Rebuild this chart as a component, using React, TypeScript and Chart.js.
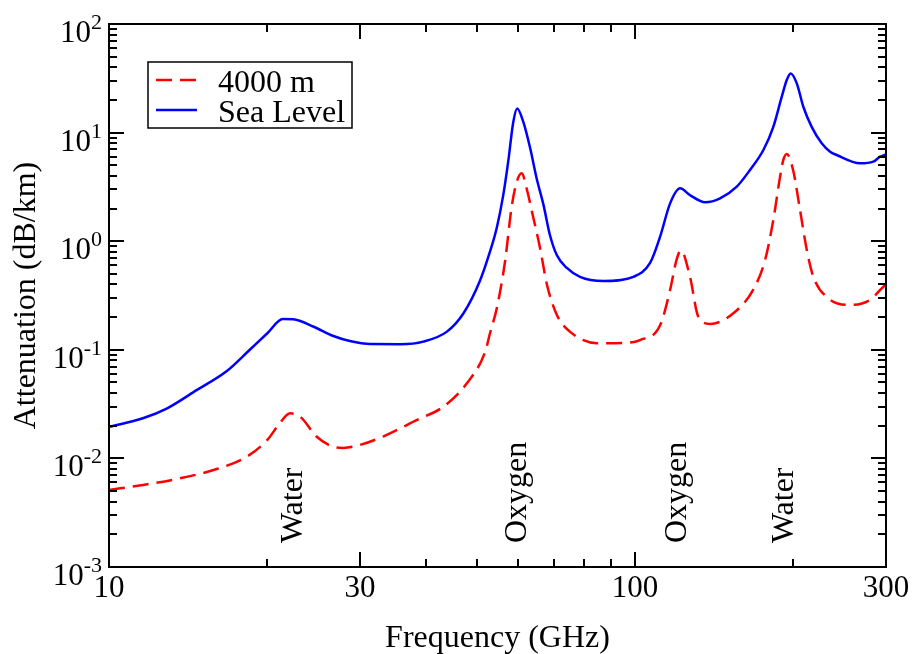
import React, { useEffect, useRef } from "react";
import { Chart, registerables } from "chart.js";

Chart.register(...registerables);

// ---- Data ----
const seaLevelFreq = [
  10, 11.6, 12.9, 14.7, 16.7, 18.5, 20.0, 21.4, 22.4, 24.5, 26.7, 28.7, 31.4, 35.8, 39.6, 43.9,
  47.2, 50.7, 53.0, 54.6, 56.2, 57.4, 58.7, 59.7, 61.3, 63.2, 65.0, 67.0, 68.9, 71.0, 74.1,
  78.6, 87.0, 99.3, 106.8, 111.6, 116.6, 121.8, 127.2, 135.9, 145.1, 156.1, 165.4, 175.4,
  183.2, 190.1, 194.3, 197.7, 203.0, 208.9, 216.7, 226.4, 234.9, 241.7, 267.8, 283.8, 292.3,
  300,
];
const seaLevelAtten = [
  0.0195, 0.0234, 0.0289, 0.0427, 0.063, 0.0996, 0.142, 0.192, 0.191, 0.163, 0.134, 0.1205,
  0.113, 0.1127, 0.119, 0.147, 0.217, 0.43, 0.8, 1.33, 2.7, 5.4, 12.6, 16.7, 12.6, 7.17, 3.8,
  2.15, 1.14, 0.746, 0.57, 0.47, 0.43, 0.47, 0.63, 1.1, 2.23, 3.07, 2.66, 2.28, 2.48, 3.18,
  4.53, 6.92, 11.3, 21.4, 30.5, 35.0, 28.4, 17.3, 11.3, 7.97, 6.67, 6.22, 5.21, 5.4, 6.0, 6.3,
];
const highFreq = [
  10, 11.6, 13.65, 15.8, 18.3, 20.0, 21.1, 22.1, 23.1, 24.8, 26.7, 27.9, 30.0, 33.2, 38.5,
  43.2, 47.9, 51.9, 53.0, 54.6, 56.6, 58.3, 59.6, 60.9, 62.2, 64.1, 66.0, 68.0, 71.0, 75.2,
  84.6, 96.4, 102.2, 111.6, 116.6, 119.9, 122.3, 127.2, 131.9, 138.9, 153.8, 167.9, 176.7,
  183.2, 188.7, 191.4, 194.3, 200.0, 205.9, 212.1, 218.3, 233.1, 256.3, 279.8, 294.4, 300,
];
const highAtten = [
  0.00512, 0.00569, 0.00656, 0.00782, 0.0104, 0.0148, 0.021, 0.026, 0.0242, 0.0159, 0.0128,
  0.0125, 0.0133, 0.0159, 0.0226, 0.0299, 0.0492, 0.0961, 0.142, 0.241, 0.647, 2.1, 3.53,
  4.22, 3.07, 1.63, 0.86, 0.4, 0.21, 0.147, 0.115, 0.116, 0.123, 0.168, 0.356, 0.67, 0.82,
  0.471, 0.202, 0.173, 0.217, 0.36, 0.671, 1.57, 3.93, 5.6, 6.35, 4.4, 1.94, 0.83, 0.471,
  0.298, 0.259, 0.288, 0.368, 0.4,
];
const seriesLabels = ["4000 m", "Sea Level"];
const xMajorTicks = [10, 30, 100, 300];
const xMinorTicks = [20, 40, 50, 60, 70, 80, 90, 200];
const yExponents = [-3, -2, -1, 0, 1, 2];
const annotationFreqs = [22.3, 59.5, 119.6, 190.9];
const annotationLabels = ["Water", "Oxygen", "Oxygen", "Water"];
const annotationAtten = 0.00166;
const xTitle = "Frequency (GHz)";
const yTitle = "Attenuation (dB/km)";

const FONT = '"Liberation Serif", "Times New Roman", serif';

const decorPlugin = {
  id: "decor",
  afterDraw(chart: any) {
    const ctx: CanvasRenderingContext2D = chart.ctx;
    const area = chart.chartArea;
    const xs = chart.scales.x;
    const ys = chart.scales.y;
    const { left, right, top, bottom } = area;
    ctx.save();
    ctx.strokeStyle = "#000";
    ctx.fillStyle = "#000";

    // frame
    ctx.lineWidth = 2;
    ctx.strokeRect(left, top, right - left, bottom - top);

    // x ticks (bottom and top, inward)
    const drawXTick = (v: number, len: number, w: number) => {
      const px = Math.round(xs.getPixelForValue(v));
      ctx.lineWidth = w;
      ctx.beginPath();
      ctx.moveTo(px, bottom);
      ctx.lineTo(px, bottom - len);
      ctx.moveTo(px, top);
      ctx.lineTo(px, top + len);
      ctx.stroke();
    };
    xMajorTicks.forEach((v) => drawXTick(v, 15, 2));
    xMinorTicks.forEach((v) => drawXTick(v, 8, 2));

    // y ticks (left and right, inward)
    const drawYTick = (v: number, len: number, w: number) => {
      const py = Math.round(ys.getPixelForValue(v));
      ctx.lineWidth = w;
      ctx.beginPath();
      ctx.moveTo(left, py);
      ctx.lineTo(left + len, py);
      ctx.moveTo(right, py);
      ctx.lineTo(right - len, py);
      ctx.stroke();
    };
    yExponents.forEach((e, i) => {
      drawYTick(Math.pow(10, e), 15, 2);
      if (i < yExponents.length - 1) {
        for (let m = 2; m <= 9; m++) drawYTick(m * Math.pow(10, e), 8, 2);
      }
    });

    // x tick labels
    ctx.font = `31px ${FONT}`;
    ctx.textAlign = "center";
    ctx.textBaseline = "alphabetic";
    xMajorTicks.forEach((v) => {
      ctx.fillText(String(v), xs.getPixelForValue(v), bottom + 30);
    });

    // y tick labels: 10^e
    yExponents.forEach((e) => {
      const py = ys.getPixelForValue(Math.pow(10, e));
      const exp = String(e);
      ctx.font = `22px ${FONT}`;
      const supW = ctx.measureText(exp).width;
      ctx.font = `31px ${FONT}`;
      const baseW = ctx.measureText("10").width;
      const r = left - 7;
      ctx.textAlign = "left";
      ctx.fillText("10", r - supW - baseW, py + 18);
      ctx.font = `22px ${FONT}`;
      ctx.fillText(exp, r - supW, py + 5);
    });

    // axis titles
    ctx.font = `32px ${FONT}`;
    ctx.textAlign = "center";
    ctx.fillText(xTitle, (left + right) / 2, bottom + 80);
    ctx.save();
    ctx.translate(35, (top + bottom) / 2);
    ctx.rotate(-Math.PI / 2);
    ctx.fillText(yTitle, 0, 0);
    ctx.restore();

    // annotations
    ctx.font = `32px ${FONT}`;
    ctx.textAlign = "left";
    annotationFreqs.forEach((f, i) => {
      const px = xs.getPixelForValue(f);
      const py = ys.getPixelForValue(annotationAtten);
      ctx.save();
      ctx.translate(px, py);
      ctx.rotate(-Math.PI / 2);
      ctx.fillText(annotationLabels[i], 0, 10);
      ctx.restore();
    });

    // legend
    const lx = left + 39;
    const ly = top + 38;
    ctx.fillStyle = "#fff";
    ctx.fillRect(lx, ly, 204, 66);
    ctx.lineWidth = 1.5;
    ctx.strokeStyle = "#000";
    ctx.strokeRect(lx, ly, 204, 66);
    chart.data.datasets.forEach((ds: any, i: number) => {
      const y = ly + 18 + i * 30;
      ctx.strokeStyle = ds.borderColor;
      ctx.lineWidth = ds.borderWidth;
      ctx.setLineDash(ds.borderDash || []);
      ctx.beginPath();
      ctx.moveTo(lx + 8, y);
      ctx.lineTo(lx + 49, y);
      ctx.stroke();
      ctx.setLineDash([]);
      ctx.fillStyle = "#000";
      ctx.font = `32px ${FONT}`;
      ctx.textAlign = "left";
      ctx.fillText(ds.label, lx + 70, y + 11.5);
    });
    ctx.restore();
  },
};

export default function App() {
  const ref = useRef<HTMLCanvasElement | null>(null);
  useEffect(() => {
    document.body.style.margin = "0";
    const canvas = ref.current;
    if (!canvas) return;
    const chart = new Chart(canvas, {
      type: "line",
      data: {
        datasets: [
          {
            label: seriesLabels[0],
            data: highFreq.map((f, i) => ({ x: f, y: highAtten[i] })),
            borderColor: "#ff0000",
            borderWidth: 2.5,
            borderDash: [16, 8],
            pointRadius: 0,
            cubicInterpolationMode: "monotone",
            fill: false,
          },
          {
            label: seriesLabels[1],
            data: seaLevelFreq.map((f, i) => ({ x: f, y: seaLevelAtten[i] })),
            borderColor: "#0000ff",
            borderWidth: 2.5,
            pointRadius: 0,
            cubicInterpolationMode: "monotone",
            fill: false,
          },
        ],
      },
      options: {
        responsive: false,
        animation: false,
        layout: { padding: { left: 109, right: 26, top: 24, bottom: 87 } },
        scales: {
          x: { type: "logarithmic", min: 10, max: 300, display: false },
          y: { type: "logarithmic", min: 0.001, max: 100, display: false },
        },
        plugins: { legend: { display: false }, tooltip: { enabled: false } },
      },
      plugins: [decorPlugin],
    } as any);
    return () => chart.destroy();
  }, []);
  return (
    <div style={{ position: "absolute", left: 0, top: 0, width: 912, height: 654, background: "#fff" }}>
      <canvas ref={ref} width={912} height={654} style={{ display: "block" }} />
    </div>
  );
}
